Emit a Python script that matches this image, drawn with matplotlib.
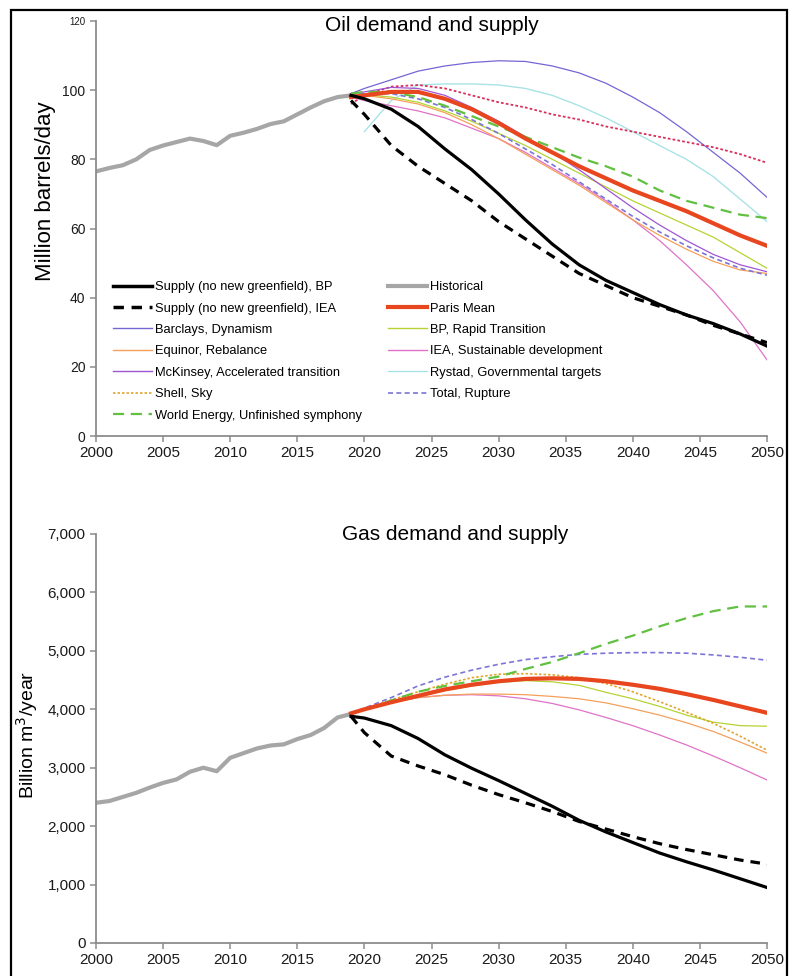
import numpy as np
import matplotlib
matplotlib.use("Agg")
import matplotlib.pyplot as plt
from matplotlib.lines import Line2D
from matplotlib.patches import Rectangle
from matplotlib.ticker import FuncFormatter

plt.rcParams['font.family'] = ['Liberation Sans', 'DejaVu Sans']

# ---------------- data ----------------
hist_years = list(range(2000, 2020))
oil_hist = [76.5, 77.5, 78.3, 80.0, 82.7, 84.0, 85.0, 86.0, 85.3, 84.1,
            86.8, 87.7, 88.8, 90.2, 91.0, 93.0, 95.0, 96.8, 98.0, 98.5]
gas_hist = [2400, 2430, 2500, 2570, 2660, 2740, 2800, 2930, 3000, 2940,
            3170, 3250, 3330, 3380, 3400, 3490, 3560, 3680, 3860, 3920]

scen_years = [2019, 2020, 2022, 2024, 2026, 2028, 2030, 2032, 2034,
              2036, 2038, 2040, 2042, 2044, 2046, 2048, 2050]

# Oil (million barrels/day)
oil_supply_bp = [98.5, 97.5, 94.5, 89.5, 83.0, 77.0, 70.0, 62.5, 55.5,
                 49.5, 45.0, 41.5, 38.0, 35.0, 32.5, 29.5, 26.0]
oil_supply_iea = [97.0, 93.0, 84.0, 78.0, 73.0, 68.0, 62.0, 57.0, 52.0,
                  47.0, 43.5, 40.0, 37.5, 35.0, 32.0, 29.5, 27.0]
oil_barclays = [99.0, 100.5, 103.0, 105.5, 107.0, 108.0, 108.5, 108.3, 107.0,
                105.0, 102.0, 98.0, 93.5, 88.0, 82.0, 76.0, 69.0]
oil_paris = [98.0, 98.5, 99.5, 99.5, 97.5, 94.5, 90.5, 86.0, 82.0,
             78.0, 74.5, 71.0, 68.0, 65.0, 61.5, 58.0, 55.0]
oil_bp_rapid = [98.5, 98.7, 98.0, 96.5, 94.0, 91.0, 87.5, 84.0, 80.0,
                76.0, 72.0, 68.0, 64.5, 61.0, 57.5, 53.0, 48.5]
oil_equinor = [98.5, 98.5, 97.5, 96.0, 93.5, 90.0, 86.0, 81.5, 77.0,
               72.5, 67.5, 62.5, 58.0, 54.0, 50.5, 48.0, 47.0]
oil_iea_sd = [98.0, 97.0, 95.5, 94.0, 92.0, 89.0, 86.0, 82.0, 77.5,
              73.0, 68.0, 62.5, 56.5, 49.5, 42.0, 33.0, 22.0]
oil_mckinsey = [99.0, 99.5, 100.8, 100.5, 98.5, 95.0, 91.0, 86.5, 82.0,
                77.0, 71.5, 66.0, 61.0, 56.5, 52.5, 49.5, 47.5]
oil_rystad = [np.nan, 88.0, 97.0, 101.5, 101.8, 101.8, 101.5, 100.5, 98.5,
              95.5, 92.0, 88.0, 84.0, 80.0, 75.0, 68.5, 62.0]
oil_shell = [96.0, 98.5, 101.0, 101.5, 100.5, 98.5, 96.5, 95.0, 93.0,
             91.5, 89.5, 88.0, 86.5, 85.0, 83.5, 81.5, 79.0]
oil_total = [98.5, 99.0, 99.0, 97.5, 95.0, 91.5, 87.5, 83.0, 78.5,
             73.5, 68.5, 63.5, 59.0, 55.0, 51.5, 48.5, 46.5]
oil_world_energy = [99.0, 99.5, 99.5, 98.0, 95.5, 92.5, 89.5, 86.5, 83.5,
                    80.5, 78.0, 75.0, 71.0, 68.0, 66.0, 64.0, 63.0]

# Gas (billion m3/year)
gas_supply_bp = [3880, 3850, 3720, 3500, 3220, 2990, 2780, 2560, 2340,
                 2100, 1900, 1720, 1540, 1390, 1250, 1100, 950]
gas_supply_iea = [3880, 3600, 3200, 3030, 2880, 2700, 2540, 2400, 2250,
                  2080, 1950, 1820, 1700, 1600, 1510, 1420, 1350]
gas_paris = [3930, 4000, 4120, 4230, 4340, 4420, 4480, 4520, 4530,
             4520, 4480, 4420, 4350, 4260, 4160, 4050, 3940]
gas_bp_rapid = [3930, 4000, 4110, 4220, 4320, 4400, 4460, 4490, 4470,
                4410, 4290, 4180, 4050, 3900, 3780, 3720, 3710]
gas_equinor = [3930, 4000, 4120, 4200, 4240, 4260, 4260, 4250, 4220,
               4180, 4110, 4010, 3900, 3770, 3620, 3440, 3250]
gas_iea_sd = [3930, 4000, 4120, 4200, 4240, 4250, 4230, 4180, 4100,
              3990, 3860, 3720, 3560, 3390, 3200, 3000, 2790]
gas_shell = [3930, 4010, 4160, 4300, 4430, 4540, 4600, 4610, 4590,
             4540, 4440, 4300, 4130, 3950, 3760, 3540, 3300]
gas_total = [3930, 4020, 4200, 4400, 4550, 4670, 4770, 4850, 4900,
             4940, 4960, 4970, 4970, 4960, 4930, 4890, 4840]
gas_world_energy = [3930, 4000, 4150, 4300, 4400, 4480, 4560, 4690, 4810,
                    4960, 5120, 5260, 5420, 5560, 5680, 5760, 5760]

x_ticks = [2000, 2005, 2010, 2015, 2020, 2025, 2030, 2035, 2040, 2045, 2050]
oil_ticks = [0, 20, 40, 60, 80, 100, 120]
gas_ticks = [0, 1000, 2000, 3000, 4000, 5000, 6000, 7000]

# ---------------- styles ----------------
C_HIST = "#a6a6a6"
C_PARIS = "#e8461e"
C_BARCLAYS = "#7466d4"
C_BPRAPID = "#b5d334"
C_EQUINOR = "#f5a05a"
C_IEASD = "#e072c8"
C_MCK = "#a055d2"
C_RYSTAD = "#a9e3e6"
C_SHELL = "#e0a62e"
C_SHELL_OIL = "#d8305c"
C_TOTAL = "#7c74d8"
C_WE = "#62c040"

W, H = 789, 976
fig = plt.figure(figsize=(W / 100, H / 100), dpi=100)
fig.patch.set_facecolor("white")


def px_box(l, r, t, b):
    return [l / W, 1 - b / H, (r - l) / W, (b - t) / H]


ax1 = fig.add_axes(px_box(96, 767, 21, 436))
ax2 = fig.add_axes(px_box(96, 767, 534, 943))

for ax in (ax1, ax2):
    for s in ("top", "right"):
        ax.spines[s].set_visible(False)
    for s in ("left", "bottom"):
        ax.spines[s].set_color("#8c8c8c")
        ax.spines[s].set_linewidth(1.3)
    ax.tick_params(axis="both", colors="#8c8c8c", length=4, width=1.1,
                   labelcolor="#1a1a1a")
    ax.tick_params(axis="x", labelsize=11, pad=3)
    ax.set_xlim(2000, 2050)
    ax.set_xticks(x_ticks)

sy = np.array(scen_years)

# ---- oil panel ----
ax1.plot(hist_years, oil_hist, color=C_HIST, lw=3.0, solid_capstyle="round")
ax1.plot(sy, oil_barclays, color=C_BARCLAYS, lw=0.9)
ax1.plot(sy, oil_rystad, color=C_RYSTAD, lw=1.0)
ax1.plot(sy, oil_shell, color=C_SHELL_OIL, lw=1.3, ls=(0, (1.5, 1.2)))
ax1.plot(sy, oil_iea_sd, color=C_IEASD, lw=0.9)
ax1.plot(sy, oil_equinor, color=C_EQUINOR, lw=0.9)
ax1.plot(sy, oil_bp_rapid, color=C_BPRAPID, lw=0.9)
ax1.plot(sy, oil_total, color=C_TOTAL, lw=1.2, ls=(0, (3, 2)))
ax1.plot(sy, oil_mckinsey, color=C_MCK, lw=0.9)
ax1.plot(sy, oil_world_energy, color=C_WE, lw=1.6, ls=(0, (5, 3)))
ax1.plot(sy, oil_paris, color=C_PARIS, lw=3.0)
ax1.plot(sy, oil_supply_iea, color="black", lw=2.3, ls=(0, (3, 2.2)))
ax1.plot(sy, oil_supply_bp, color="black", lw=2.3)

ax1.set_ylim(0, 120)
ax1.set_yticks(oil_ticks)
ax1.tick_params(axis="y", labelsize=10)
for lab in ax1.get_yticklabels():
    if lab.get_text() == "120":
        lab.set_fontsize(7)
ax1.set_ylabel("Million barrels/day", fontsize=16)
ax1.yaxis.set_label_coords((56 - 96) / 671, (436 - 191) / 415)
ax1.text(0.5, 0.988, "Oil demand and supply", transform=ax1.transAxes,
         ha="center", va="center", fontsize=15)

# ---- gas panel ----
ax2.plot(hist_years, gas_hist, color=C_HIST, lw=3.0, solid_capstyle="round")
ax2.plot(sy, gas_iea_sd, color=C_IEASD, lw=0.9)
ax2.plot(sy, gas_equinor, color=C_EQUINOR, lw=0.9)
ax2.plot(sy, gas_bp_rapid, color=C_BPRAPID, lw=0.9)
ax2.plot(sy, gas_shell, color=C_SHELL, lw=1.2, ls=(0, (1.5, 1.2)))
ax2.plot(sy, gas_total, color=C_TOTAL, lw=1.2, ls=(0, (3, 2)))
ax2.plot(sy, gas_world_energy, color=C_WE, lw=1.6, ls=(0, (5, 3)))
ax2.plot(sy, gas_paris, color=C_PARIS, lw=3.0)
ax2.plot(sy, gas_supply_iea, color="black", lw=2.3, ls=(0, (3, 2.2)))
ax2.plot(sy, gas_supply_bp, color="black", lw=2.3)

ax2.set_ylim(0, 7000)
ax2.set_yticks(gas_ticks)
ax2.yaxis.set_major_formatter(FuncFormatter(lambda v, p: f"{int(v):,}"))
ax2.tick_params(axis="y", labelsize=11)
ax2.set_ylabel("Billion m$^3$/year", fontsize=14)
ax2.yaxis.set_label_coords((40 - 96) / 671, (943 - 735) / 409)
ax2.text(0.535, 1.0, "Gas demand and supply", transform=ax2.transAxes,
         ha="center", va="center", fontsize=15)

# ---- legend ----
legend_items = [
    ("Supply (no new greenfield), BP", dict(color="black", lw=2.5)),
    ("Supply (no new greenfield), IEA", dict(color="black", lw=2.5, ls=(0, (3, 2.2)))),
    ("Barclays, Dynamism", dict(color=C_BARCLAYS, lw=1.0)),
    ("Equinor, Rebalance", dict(color=C_EQUINOR, lw=1.0)),
    ("McKinsey, Accelerated transition", dict(color=C_MCK, lw=1.0)),
    ("Shell, Sky", dict(color=C_SHELL, lw=1.2, ls=(0, (1.5, 1.2)))),
    ("World Energy, Unfinished symphony", dict(color=C_WE, lw=1.6, ls=(0, (5, 3)))),
    ("Historical", dict(color=C_HIST, lw=3.0)),
    ("Paris Mean", dict(color=C_PARIS, lw=3.0)),
    ("BP, Rapid Transition", dict(color=C_BPRAPID, lw=1.0)),
    ("IEA, Sustainable development", dict(color=C_IEASD, lw=1.0)),
    ("Rystad, Governmental targets", dict(color=C_RYSTAD, lw=1.0)),
    ("Total, Rupture", dict(color=C_TOTAL, lw=1.2, ls=(0, (3, 2)))),
]
handles = [Line2D([], [], **kw) for _, kw in legend_items]
labels = [t for t, _ in legend_items]
ax1.legend(handles, labels, ncol=2, frameon=False, fontsize=9.3,
           loc="upper left", bbox_to_anchor=(113 / W, 1 - 281 / H),
           bbox_transform=fig.transFigure, borderpad=0, borderaxespad=0,
           handlelength=3.0, handletextpad=0.25, labelspacing=0.73,
           columnspacing=2.0)

# outer frame
fig.patches.append(Rectangle((11 / W, -0.02), (787 - 11) / W, 1.02 - 10 / H,
                             transform=fig.transFigure, fill=False,
                             edgecolor="black", lw=1.6, zorder=10))

fig.savefig("out.png", dpi=100, facecolor="white")
